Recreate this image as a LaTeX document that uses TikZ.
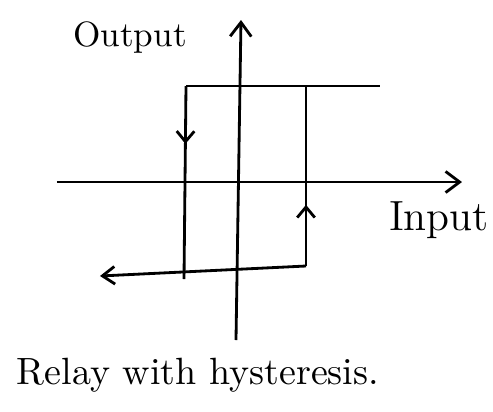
\documentclass[tikz,border=0pt]{standalone}
\usepackage{tikz}
\usetikzlibrary{arrows.meta,decorations.markings}

\begin{document}
\begin{tikzpicture}[x=0.01cm,y=-0.01cm,line width=0.8pt,
    tip/.style={-{Straight Barb[length=4pt,width=6pt]}},
    midtip/.style={postaction={decorate},
      decoration={markings,mark=at position #1 with {\arrow{Straight Barb[length=3pt,width=5pt]}}}}]
  \useasboundingbox (0,0) rectangle (493,411);
  % axes
  \coordinate (xl) at (57,182);
  \coordinate (xr) at (462,182);
  \coordinate (yb) at (236,340);
  \coordinate (yt) at (241,20);
  \draw[tip] (xl) -- (xr);
  \draw[tip] (yb) -- (yt);
  % hysteresis loop
  \coordinate (tl) at (186,86);
  \coordinate (tr) at (380,86);
  \coordinate (tm) at (306,86);
  \coordinate (bl) at (184,279);
  \coordinate (br) at (306,266);
  \coordinate (bend) at (100,276);
  \draw (tl) -- (tr);
  \draw[midtip=0.3] (tl) -- (bl);
  \draw[midtip=0.34] (br) -- (tm);
  \draw[-{Straight Barb[length=3.5pt,width=5pt]}] (br) -- (bend);
  % labels
  \node (outlbl) at (130,38) {Output};
  \node (inlbl) at (439,220) {\large Input};
  \node (title) at (198,375) {\fontsize{10.8}{13}\selectfont Relay with hysteresis.};
\end{tikzpicture}
\end{document}
